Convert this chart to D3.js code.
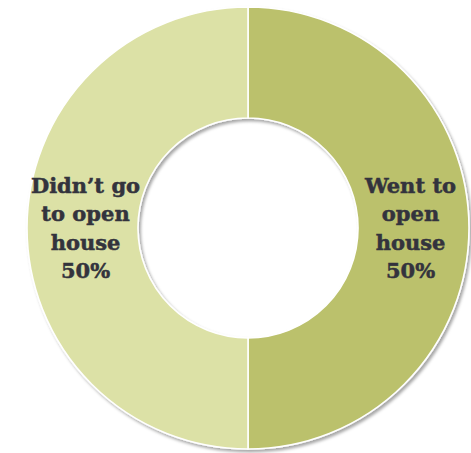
<!DOCTYPE html>
<html>
<head>
<meta charset="utf-8">
<script src="https://cdn.jsdelivr.net/npm/d3@7"></script>
<style>
  html, body { margin: 0; padding: 0; background: #ffffff; }
  svg { display: block; }
</style>
</head>
<body>
<svg id="chart" width="471" height="453"></svg>
<script>
// Open house attendance
const categories = ["Went to open house", "Didn\u2019t go to open house"];
const labelLines = [["Went to", "open", "house"], ["Didn\u2019t go", "to open", "house"]];
const values = [50, 50];
const colors = ["#bbc16c", "#dce1a6"];

const width = 471, height = 453;
const cx = 248, cy = 228;
const outerR = 221, innerR = 110;

const svg = d3.select("#chart");

// soft drop shadow under the ring
const defs = svg.append("defs");
const f = defs.append("filter").attr("id", "shadow")
  .attr("x", "-10%").attr("y", "-10%").attr("width", "120%").attr("height", "120%");
f.append("feDropShadow").attr("dx", 2).attr("dy", 2.5).attr("stdDeviation", 1.8)
  .attr("flood-color", "#000").attr("flood-opacity", 0.35);

const pie = d3.pie().sort(null).value(d => d)
  .startAngle(0).endAngle(2 * Math.PI);
const arcs = pie(values);

const arc = d3.arc().innerRadius(innerR).outerRadius(outerR);
const labelArc = d3.arc().innerRadius(innerR).outerRadius(outerR);

const g = svg.append("g").attr("transform", `translate(${cx},${cy})`);

g.append("g").attr("filter", "url(#shadow)")
  .selectAll("path").data(arcs).join("path")
  .attr("d", arc)
  .attr("fill", (d, i) => colors[i])
  .attr("stroke", "#ffffff")
  .attr("stroke-width", 1.6)
  .attr("stroke-linejoin", "round");

const total = d3.sum(values);
const fmt = d3.format(".0%");
const lineH = 28.5;

const labels = g.append("g")
  .attr("font-family", "'DejaVu Serif', serif")
  .attr("font-weight", "bold")
  .attr("font-size", 21)
  .attr("fill", "#33333d")
  .attr("stroke", "#33333d")
  .attr("stroke-width", 0.5)
  .attr("text-anchor", "middle");

arcs.forEach((d, i) => {
  const [x, y] = labelArc.centroid(d);
  const lines = labelLines[i].concat([fmt(d.value / total)]);
  const t = labels.append("text").attr("transform", `translate(${x - 3 * Math.sign(x)},${y})`);
  lines.forEach((s, k) => {
    t.append("tspan")
      .attr("x", 0)
      .attr("y", (k - (lines.length - 1) / 2) * lineH)
      .attr("dy", "0.35em")
      .text(s);
  });
});
</script>
</body>
</html>
